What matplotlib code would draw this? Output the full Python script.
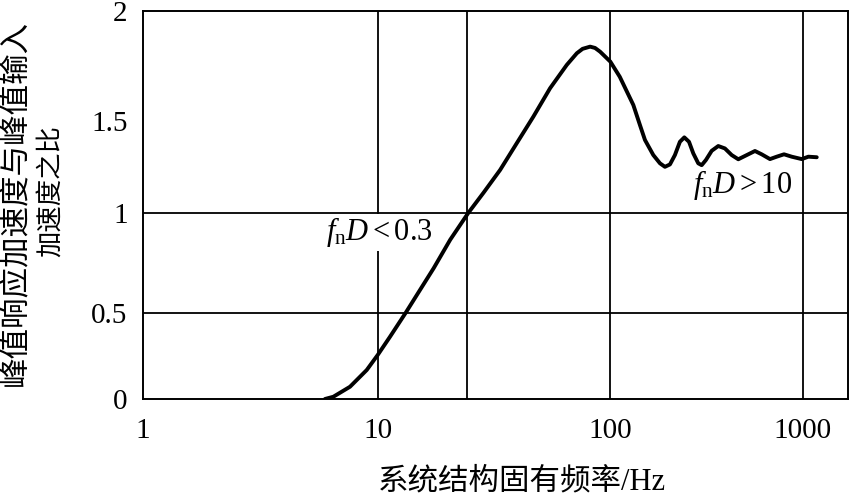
import numpy as np
import matplotlib
matplotlib.use("Agg")
import matplotlib.pyplot as plt

# ---------------- data ----------------
freq_hz = [5.96, 6.47, 7.62, 8.98, 10.0, 11.3, 13.2, 15.2, 17.4, 20.5, 24.5, 28.5,
           33.6, 39.6, 46.7, 55.1, 65.0, 71.8, 76.0, 81.9, 86.0, 90.4, 100.0, 112.0,
           131.7, 142.6, 151.4, 167.3, 181.2, 192.3, 204.2, 216.7, 230.0, 242.5,
           256.5, 270.0, 286.5, 298.5, 314.0, 336.5, 364.0, 394.0, 427.4, 462.6,
           501.0, 564.8, 612.0, 676.0, 732.5, 799.6, 877.0, 988.6, 1070.0, 1183.0]
ratio = [0.0, 0.013, 0.071, 0.168, 0.255, 0.361, 0.50, 0.614, 0.723, 0.866, 1.0, 1.11,
         1.234, 1.379, 1.52, 1.649, 1.755, 1.808, 1.828, 1.838, 1.832, 1.815, 1.77, 1.701,
         1.573, 1.478, 1.397, 1.315, 1.27, 1.251, 1.264, 1.315, 1.387, 1.411,
         1.387, 1.324, 1.27, 1.26, 1.288, 1.338, 1.364, 1.351, 1.315, 1.292,
         1.31, 1.337, 1.319, 1.293, 1.306, 1.319, 1.306, 1.293, 1.306, 1.303]

x_ticks = [1, 10, 100, 1000]
x_tick_labels = ["1", "10", "100", "1000"]
y_ticks = [0, 0.5, 1, 1.5, 2]
y_tick_labels = ["0", "0.5", "1", "1.5", "2"]
x_grid = [10, 24.3, 100, 1000]
y_grid = [0.5, 1]

ylabel_line1 = "峰值响应加速度与峰值输入"
ylabel_line2 = "加速度之比"
xlabel = "系统结构固有频率/Hz"
note_low = r"$f_{\mathrm{n}}D < 0.3$"
note_high = r"$f_{\mathrm{n}}D > 10$"

# ---------------- the (hand-drawn) axis scales of the original ----------------
LOG_K = np.array([0.0, 1.0, 2.0, 3.0])
X_PIX = np.array([0.0, 234.7, 467.3, 659.7])
Y_V = np.array([0.0, 0.5, 1.0, 1.5, 2.0])
Y_PIX = np.array([0.0, 86.3, 186.0, 278.0, 388.0])


def pw(v, a, b):
    v = np.asarray(v, dtype=float)
    out = np.interp(v, a, b)
    out = np.where(v < a[0], b[0] + (v - a[0]) * (b[1] - b[0]) / (a[1] - a[0]), out)
    out = np.where(v > a[-1], b[-1] + (v - a[-1]) * (b[-1] - b[-2]) / (a[-1] - a[-2]), out)
    return out


def x_fwd(v):
    v = np.asarray(v, dtype=float)
    return pw(np.log10(np.clip(v, 1e-12, None)), LOG_K, X_PIX)


def x_inv(u):
    return 10.0 ** pw(u, X_PIX, LOG_K)


def y_fwd(v):
    return pw(v, Y_V, Y_PIX)


def y_inv(u):
    return pw(u, Y_PIX, Y_V)


plt.rcParams["mathtext.fontset"] = "custom"
plt.rcParams["mathtext.rm"] = "Liberation Serif"
plt.rcParams["mathtext.it"] = "Liberation Serif:italic"
serif = ["Liberation Serif", "DejaVu Serif"]
cjk = ["Noto Sans CJK SC", "DejaVu Sans"]
serif_cjk = ["Liberation Serif", "Noto Sans CJK SC", "DejaVu Sans"]

W, H = 850, 498
fig = plt.figure(figsize=(W / 100, H / 100), dpi=100)
L, R, T, B = 143, 848, 11, 399
ax = fig.add_axes([L / W, 1 - B / H, (R - L) / W, (B - T) / H])
ax.set_xscale("function", functions=(x_fwd, x_inv))
ax.set_yscale("function", functions=(y_fwd, y_inv))
ax.set_xlim(1, float(x_inv(R - L)))
ax.set_ylim(0, 2)

for g in x_grid:
    ax.axvline(g, color="black", lw=1.3, zorder=1)
for g in y_grid:
    ax.axhline(g, color="black", lw=1.3, zorder=1)

ax.plot(freq_hz, ratio, color="black", lw=2.8, solid_joinstyle="round",
        solid_capstyle="round", zorder=3)

ax.set_xticks(x_ticks)
ax.set_xticklabels(x_tick_labels)
ax.set_yticks(y_ticks)
ax.set_yticklabels(y_tick_labels)
ax.xaxis.set_minor_locator(matplotlib.ticker.NullLocator())
ax.yaxis.set_minor_locator(matplotlib.ticker.NullLocator())
ax.tick_params(axis="both", length=0, labelsize=21)
ax.tick_params(axis="x", pad=14)
ax.tick_params(axis="y", pad=11)
for lab in ax.get_xticklabels() + ax.get_yticklabels():
    lab.set_family(serif)
for s in ax.spines.values():
    s.set_linewidth(1.4)
    s.set_color("black")

box = dict(facecolor="white", edgecolor="none", pad=1.0)
ax.text(0.336, 0.430, note_low, transform=ax.transAxes,
        ha="center", va="center", fontsize=22, bbox=box, zorder=2)
ax.text(0.850, 0.552, note_high, transform=ax.transAxes,
        ha="center", va="center", fontsize=22, bbox=box, zorder=2)

fig.text(521.5 / W, 1 - 482 / H, xlabel, ha="center", va="center",
         fontsize=22, family=serif_cjk)
fig.text(15 / W, 1 - 203 / H, ylabel_line1, ha="center", va="center",
         rotation=90, fontsize=22, family=cjk)
fig.text(51 / W, 1 - 191 / H, ylabel_line2, ha="center", va="center",
         rotation=90, fontsize=19, family=cjk)

fig.savefig("out.png", dpi=100, facecolor="white")
